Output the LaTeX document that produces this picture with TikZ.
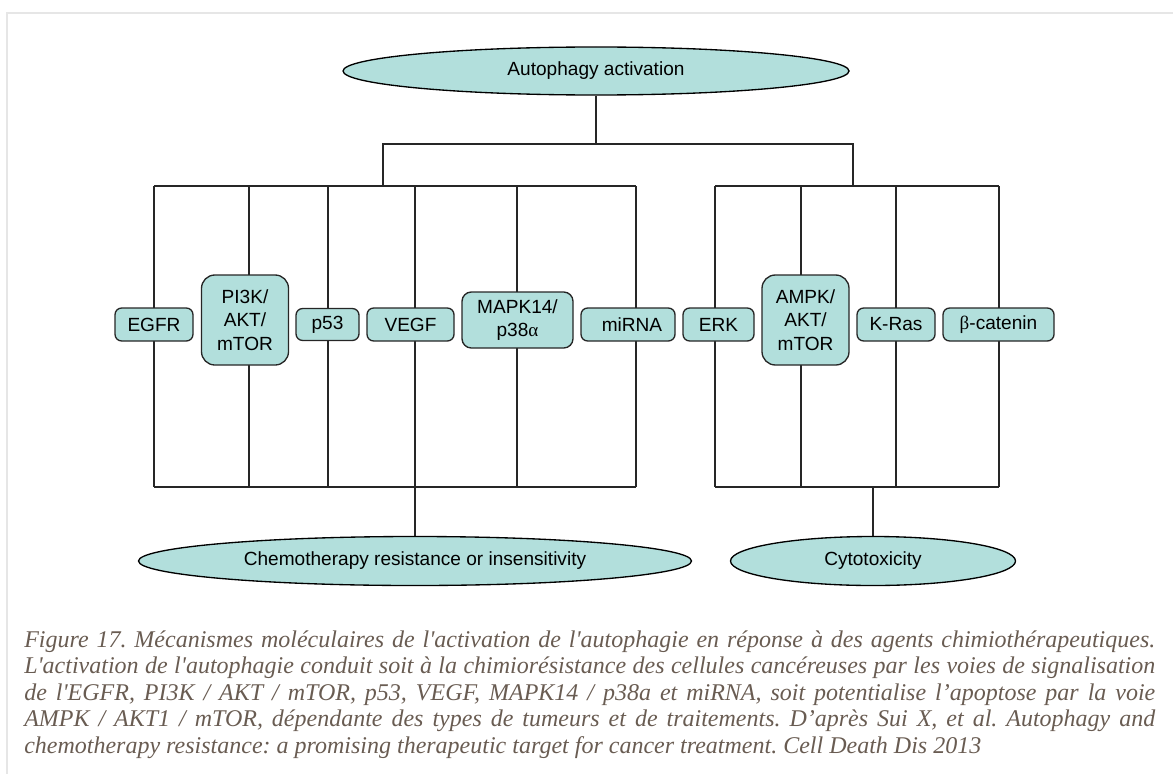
\documentclass[tikz,border=0pt]{standalone}
\usepackage{fontspec}
\setmainfont{Liberation Sans}
\newfontfamily\capfont{Liberation Serif}[Ligatures=TeXOff]
\newfontfamily\grk{Liberation Serif}
\usetikzlibrary{shapes.geometric,backgrounds}
\definecolor{boxfill}{RGB}{178,223,220}
\definecolor{capcol}{RGB}{105,92,82}
\definecolor{framecol}{RGB}{230,230,230}
\frenchspacing
\tikzset{
  oval/.style={ellipse, draw=black, line width=1pt, fill=boxfill, inner sep=0pt,
    font=\fontsize{14.3}{17}\selectfont},
  pbox/.style={rectangle, draw=black!85, line width=1pt, fill=boxfill, inner sep=0pt,
    align=center, rounded corners=5pt, font=\fontsize{14.3}{17.6}\selectfont},
  link/.style={line width=0.9pt, draw=black!85},
  capline/.style={anchor=base west, inner sep=0pt, text=capcol,
    font=\capfont\itshape\fontsize{18}{20}\selectfont\frenchspacing},
  framel/.style={draw=framecol, line width=1pt}
}
\begin{document}
\begin{tikzpicture}[x=0.75pt,y=-0.75pt]
\useasboundingbox (0,0) rectangle (1173,774);
% frame
\coordinate (fb) at (7,774);
\coordinate (fc) at (7,13);
\coordinate (fr) at (1173,13);
\draw[framel] (fb) -- (fc) -- (fr);

% ellipses
\node[oval, minimum width=379.5pt, minimum height=36pt] (act) at (596,71) {Autophagy activation};
\node[oval, minimum width=414.75pt, minimum height=36.75pt] (chemo) at (415,561) {Chemotherapy resistance or insensitivity};
\node[oval, minimum width=213.75pt, minimum height=36.75pt] (cyto) at (873,561) {Cytotoxicity};

% boxes
\node[pbox, minimum width=58.5pt, minimum height=24.75pt] (egfr) at (154,324.5) {EGFR};
\node[pbox, minimum width=65.25pt, minimum height=67.5pt, rounded corners=10pt] (pi3k) at (245,320) {PI3K/\\AKT/\\mTOR};
\node[pbox, minimum width=47.25pt, minimum height=24pt] (p53) at (327.5,324.5) {p53};
\node[pbox, minimum width=65.25pt, minimum height=24.75pt] (vegf) at (410.5,324.5) {VEGF};
\node[pbox, minimum width=83.25pt, minimum height=42pt, rounded corners=7pt] (mapk) at (517.5,320) {MAPK14/\\p38{\grk α}};
\node[pbox, minimum width=70.5pt, minimum height=24.75pt] (mirna) at (628,324.5) {\hspace{6pt}miRNA};
\node[pbox, minimum width=53.25pt, minimum height=24.75pt] (erk) at (718.5,324.5) {ERK};
\node[pbox, minimum width=65.25pt, minimum height=67.5pt, rounded corners=10pt] (ampk) at (805.5,320) {AMPK/\\AKT/\\mTOR};
\node[pbox, minimum width=58.5pt, minimum height=24.75pt] (kras) at (896,324.5) {K-Ras};
\node[pbox, minimum width=83.25pt, minimum height=24.75pt] (bcat) at (998.5,324.5) {{\grk β}-catenin};

% junction coordinates
\coordinate (j0) at (596,144);
\coordinate (jl) at (383,144);
\coordinate (jr) at (853,144);
\coordinate (lt) at (383,186);
\coordinate (rt) at (853,186);
\foreach \n/\x in {1/154,2/249,3/328,4/415,5/517,6/636}{
  \coordinate (lt\n) at (\x,186);
  \coordinate (lb\n) at (\x,487);
}
\foreach \n/\x in {1/715,2/801,3/896,4/999}{
  \coordinate (rt\n) at (\x,186);
  \coordinate (rb\n) at (\x,487);
}
\coordinate (rb) at (873,487);

\begin{scope}[on background layer]
  \draw[link] (act.south) -- (j0);
  \draw[link] (lt) -- (jl) -- (jr) -- (rt);
  \draw[link] (lt1) -- (lt6);
  \draw[link] (lb1) -- (lb6);
  \draw[link] (rt1) -- (rt4);
  \draw[link] (rb1) -- (rb4);
  \foreach \n in {1,...,6}{\draw[link] (lt\n) -- (lb\n);}
  \foreach \n in {1,...,4}{\draw[link] (rt\n) -- (rb\n);}
  \draw[link] (lb4) -- (chemo.north);
  \draw[link] (rb) -- (cyto.north);
\end{scope}

% caption
\node[capline] (cap1) at (24,647) {\hbox to 848.25pt{Figure 17. Mécanismes moléculaires de l'activation de l'autophagie en réponse à des agents chimiothérapeutiques.}};
\node[capline] (cap2) at (24,673.5) {\hbox to 848.25pt{L'activation de l'autophagie conduit soit à la chimiorésistance des cellules cancéreuses par les voies de signalisation}};
\node[capline] (cap3) at (24,700) {\hbox to 848.25pt{de l'EGFR, PI3K / AKT / mTOR, p53, VEGF, MAPK14 / p38a et miRNA, soit potentialise l’apoptose par la voie}};
\node[capline] (cap4) at (24,726.5) {\hbox to 848.25pt{AMPK / AKT1 / mTOR, dépendante des types de tumeurs et de traitements. D’après Sui X, et al. Autophagy and}};
\node[capline] (cap5) at (24,753) {chemotherapy resistance: a promising therapeutic target for cancer treatment. Cell Death Dis 2013};
\end{tikzpicture}
\end{document}
